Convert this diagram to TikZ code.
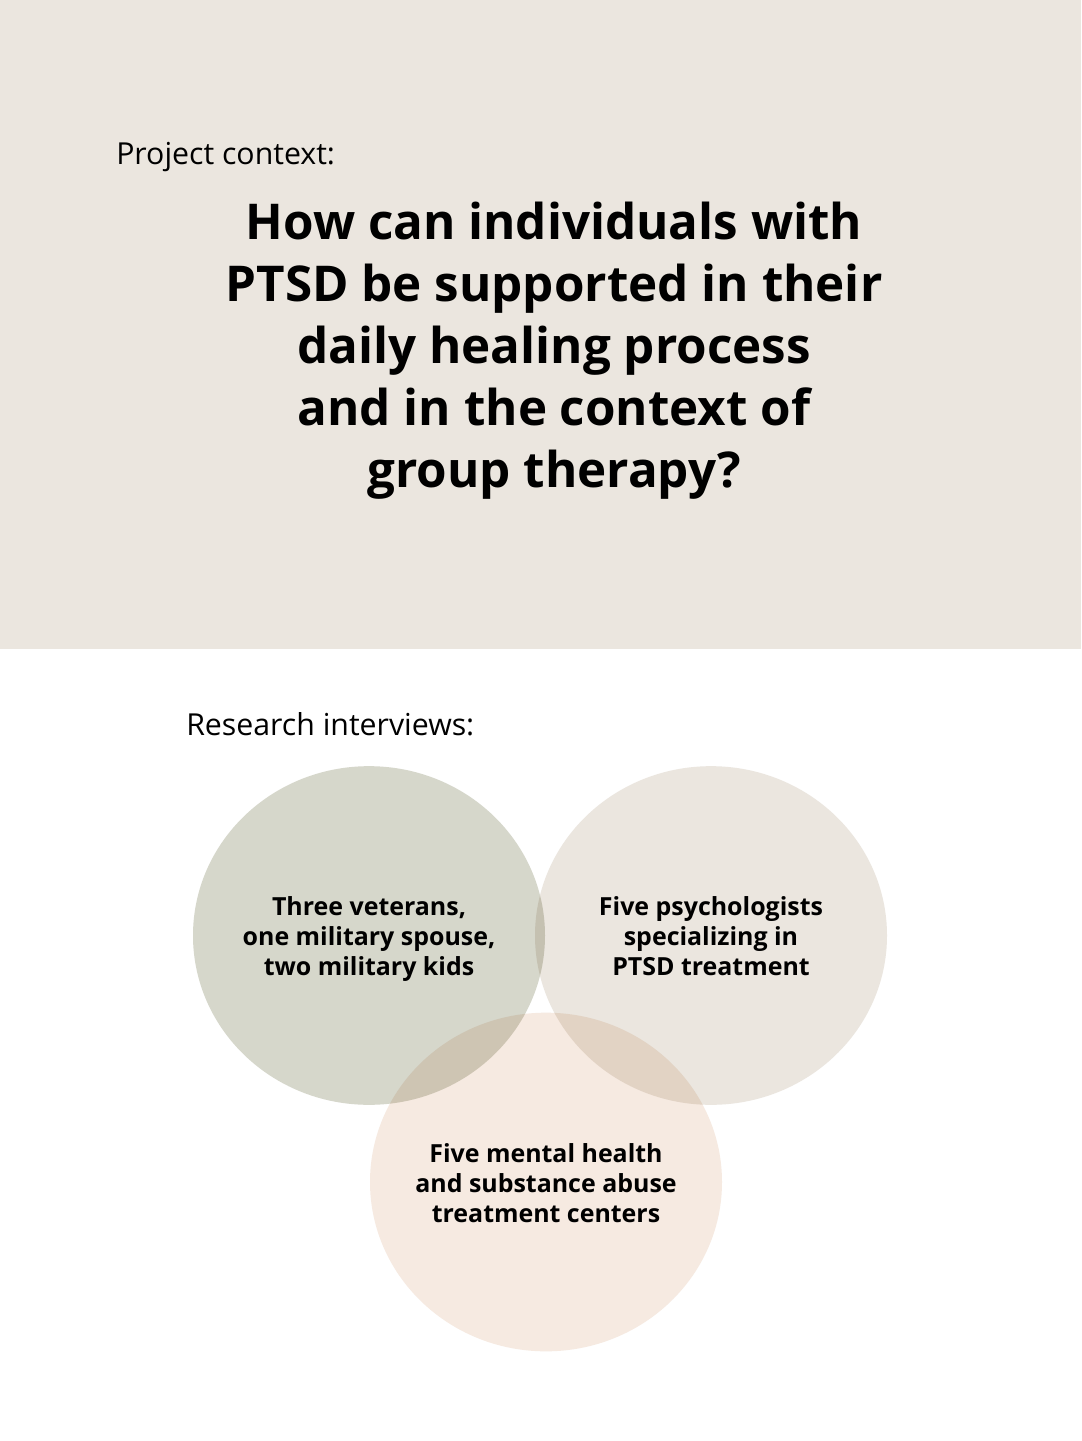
\documentclass[tikz,border=0pt]{standalone}
\usepackage{fontspec}
\setmainfont{Open Sans}
\usetikzlibrary{shapes.geometric}

\definecolor{bandbeige}{HTML}{EBE6DF}
\definecolor{sagegrey}{HTML}{D6D7CB}
\definecolor{stonegrey}{HTML}{EBE6DF}
\definecolor{peachsand}{HTML}{F6EAE1}

\tikzset{
  heading/.style={anchor=base west,inner sep=0pt,font=\fontsize{22.7}{27}\selectfont},
  question/.style={align=center,inner sep=0pt,font=\bfseries\fontsize{37}{46.5}\selectfont},
  group/.style={ellipse,minimum width=264pt,minimum height=254pt,inner sep=0pt},
  grouptext/.style={align=center,inner sep=0pt,font=\bfseries\fontsize{18.7}{22.5}\selectfont},
}

\begin{document}
\begin{tikzpicture}[x=0.75pt,y=-0.75pt]

\useasboundingbox (0,0) rectangle (1081,1441);
\fill[white] (0,0) rectangle (1081,1441);

% ---- Context band ----
\fill[bandbeige] (0,0) rectangle (1081,649);
\node[heading] (context) at (116,165) {Project context:};
\node[question] (question) at (554,351) {How can individuals with\\
  PTSD be supported in their\\
  daily healing process\\
  and in the context of\\
  group therapy?};

% ---- Interviews ----
\node[heading] (interviews) at (186,735) {Research interviews:};

\begin{scope}[blend mode=multiply]
\node[group,fill=sagegrey] (veterans) at (369,935.5) {};
\node[group,fill=stonegrey] (psychologists) at (711,935.5) {};
\node[group,fill=peachsand] (centers) at (546,1182) {};
\end{scope}

% group labels
\node[grouptext,yshift=-3pt] (veteranstext) at (veterans) {Three veterans,\\one military spouse,\\two military kids};
\node[grouptext,yshift=-0.75pt] (psychologiststext) at (psychologists) {Five psychologists\\specializing in\\PTSD treatment};
\node[grouptext,yshift=-0.75pt] (centerstext) at (centers) {Five mental health\\and substance abuse\\treatment centers};

\end{tikzpicture}
\end{document}
